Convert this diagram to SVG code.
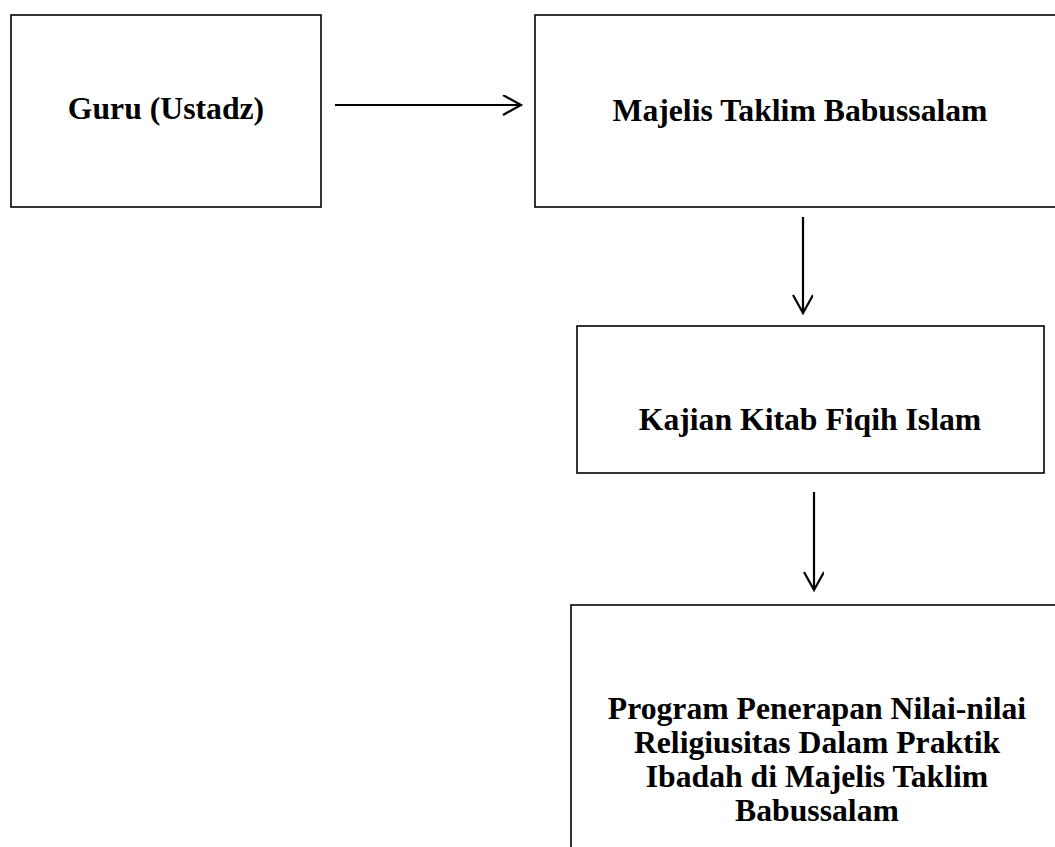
<svg xmlns="http://www.w3.org/2000/svg" width="1055" height="847" viewBox="0 0 1055 847">
<style>
.box{fill:#fff;stroke:#000;stroke-width:1.6}
.lbl{font-family:"Liberation Serif","Times New Roman",serif;font-weight:bold;font-size:31.7px;fill:#000;text-anchor:middle}
.edge{fill:none;stroke:#000;stroke-width:2.2}
</style>
<defs>
<marker id="arr" markerWidth="24" markerHeight="24" refX="20" refY="10" orient="auto" markerUnits="userSpaceOnUse">
<path d="M2,0 L20,10 L2,20" fill="none" stroke="#000" stroke-width="2.2"/>
</marker>
</defs>
<rect width="1055" height="847" fill="#fff"/>
<g id="node-guru">
<rect class="box" x="11" y="15" width="310" height="192"/>
<text class="lbl" x="166" y="119">Guru (Ustadz)</text>
</g>
<g id="node-majelis">
<rect class="box" x="535" y="15" width="540" height="192"/>
<text class="lbl" x="800" y="121">Majelis Taklim Babussalam</text>
</g>
<g id="node-kajian">
<rect class="box" x="577" y="326" width="467" height="147"/>
<text class="lbl" x="810" y="430">Kajian Kitab Fiqih Islam</text>
</g>
<g id="node-program">
<rect class="box" x="571" y="605" width="500" height="260"/>
<text class="lbl" x="817" y="719">Program Penerapan Nilai-nilai</text>
<text class="lbl" x="817" y="753">Religiusitas Dalam Praktik</text>
<text class="lbl" x="817" y="787">Ibadah di Majelis Taklim</text>
<text class="lbl" x="817" y="821">Babussalam</text>
</g>
<g id="connectors">
<line class="edge" x1="335" y1="105" x2="521" y2="105" marker-end="url(#arr)"/>
<line class="edge" x1="803" y1="217" x2="803" y2="313" marker-end="url(#arr)"/>
<line class="edge" x1="814" y1="492" x2="814" y2="590" marker-end="url(#arr)"/>
</g>
</svg>
